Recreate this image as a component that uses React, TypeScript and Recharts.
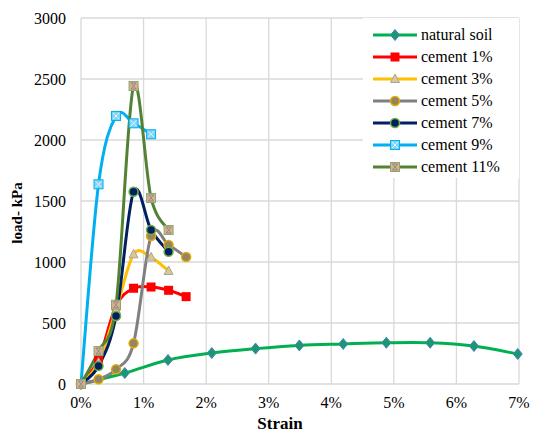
import { LineChart, Line, XAxis, YAxis, CartesianGrid, Legend } from 'recharts';

// strain (%) and load (kPa) for each mix
const soilStrain = [0, 0.7, 1.39, 2.09, 2.79, 3.49, 4.19, 4.88, 5.58, 6.28, 6.98];
const soilLoad = [0, 90, 197, 254, 290, 316, 328, 338, 338, 311, 246];

const cementStrain = [0, 0.28, 0.56, 0.84, 1.12, 1.4, 1.68];
const cement1Load = [0, 200, 640, 785, 795, 768, 716];
const cement3Load = [0, 175, 606, 1063, 1038, 926];
const cement5Load = [0, 38, 120, 333, 1213, 1139, 1041];
const cement7Load = [0, 148, 557, 1576, 1262, 1084];
const cement9Load = [0, 1637, 2197, 2137, 2047];
const cement11Load = [0, 270, 650, 2443, 1525, 1262];

const xTicks = [0, 1, 2, 3, 4, 5, 6, 7];
const yTicks = [0, 500, 1000, 1500, 2000, 2500, 3000];

const FONT = 'Liberation Serif, DejaVu Serif, Noto Serif, serif';

type MarkerKind = 'diamond' | 'square' | 'triangle' | 'circleGold' | 'circleNavy' | 'squareX' | 'squareHourglass';

const toPoints = (strain: number[], load: number[]) =>
  load.map((y, i) => ({ x: strain[i], y }));

const series = [
  { name: 'natural soil', color: '#00b050', marker: 'diamond' as MarkerKind, data: toPoints(soilStrain, soilLoad) },
  { name: 'cement 1%', color: '#ff0000', marker: 'square' as MarkerKind, data: toPoints(cementStrain, cement1Load) },
  { name: 'cement 3%', color: '#ffc000', marker: 'triangle' as MarkerKind, data: toPoints(cementStrain, cement3Load) },
  { name: 'cement 5%', color: '#808080', marker: 'circleGold' as MarkerKind, data: toPoints(cementStrain, cement5Load) },
  { name: 'cement 7%', color: '#002060', marker: 'circleNavy' as MarkerKind, data: toPoints(cementStrain, cement7Load) },
  { name: 'cement 9%', color: '#00b0f0', marker: 'squareX' as MarkerKind, data: toPoints(cementStrain, cement9Load) },
  { name: 'cement 11%', color: '#548235', marker: 'squareHourglass' as MarkerKind, data: toPoints(cementStrain, cement11Load) },
];

// Catmull-Rom style smoothing, like spreadsheet "smoothed line"
const smoothCurve = (ctx: any) => {
  let pts: [number, number][] = [];
  return {
    areaStart() {},
    areaEnd() {},
    lineStart() { pts = []; },
    point(x: number, y: number) { pts.push([+x, +y]); },
    lineEnd() {
      if (!pts.length) return;
      ctx.moveTo(pts[0][0], pts[0][1]);
      for (let i = 0; i < pts.length - 1; i++) {
        const p0 = pts[Math.max(i - 1, 0)];
        const p1 = pts[i];
        const p2 = pts[i + 1];
        const p3 = pts[Math.min(i + 2, pts.length - 1)];
        ctx.bezierCurveTo(
          p1[0] + (p2[0] - p0[0]) / 6, p1[1] + (p2[1] - p0[1]) / 6,
          p2[0] - (p3[0] - p1[0]) / 6, p2[1] - (p3[1] - p1[1]) / 6,
          p2[0], p2[1],
        );
      }
    },
  };
};

function Marker({ kind, cx, cy }: { kind: MarkerKind; cx: number; cy: number }) {
  if (cx == null || cy == null) return null;
  switch (kind) {
    case 'diamond':
      return <path d={`M${cx},${cy - 5.5}L${cx + 4.5},${cy}L${cx},${cy + 5.5}L${cx - 4.5},${cy}Z`} fill="#1a9a6c" stroke="#4a7fc1" strokeWidth={1} />;
    case 'square':
      return <rect x={cx - 4.5} y={cy - 4.5} width={9} height={9} fill="#ff0000" />;
    case 'triangle':
      return <path d={`M${cx},${cy - 5}L${cx + 4.5},${cy + 3.5}L${cx - 4.5},${cy + 3.5}Z`} fill="#dcc78f" stroke="#a5a5a5" strokeWidth={1} />;
    case 'circleGold':
      return <circle cx={cx} cy={cy} r={4.5} fill="#8f8666" stroke="#e8a800" strokeWidth={1.5} />;
    case 'circleNavy':
      return <circle cx={cx} cy={cy} r={4.5} fill="#002060" stroke="#70ad47" strokeWidth={1.5} />;
    case 'squareX':
      return (
        <g>
          <rect x={cx - 4.5} y={cy - 4.5} width={9} height={9} fill="#7fd3f7" stroke="#00b0f0" strokeWidth={1} />
          <path d={`M${cx - 3},${cy - 3}L${cx + 3},${cy + 3}M${cx + 3},${cy - 3}L${cx - 3},${cy + 3}`} stroke="#e6f7fe" strokeWidth={1} />
        </g>
      );
    case 'squareHourglass':
      return (
        <g>
          <rect x={cx - 4.5} y={cy - 4.5} width={9} height={9} fill="#dcae8e" stroke="#8aa86a" strokeWidth={1} />
          <path d={`M${cx - 2.5},${cy - 3}L${cx + 2.5},${cy - 3}L${cx},${cy}L${cx + 2.5},${cy + 3}L${cx - 2.5},${cy + 3}L${cx},${cy}Z`} fill="none" stroke="#8c8c8c" strokeWidth={1} />
        </g>
      );
  }
  return null;
}

const renderLegend = () => (
  <div style={{ background: '#fff', width: 156, height: 160, boxSizing: 'border-box', paddingTop: 6, paddingLeft: 8, fontFamily: FONT, fontSize: 16, color: '#000' }}>
    {series.map((s) => (
      <div key={s.name} style={{ display: 'flex', alignItems: 'center', height: 22 }}>
        <svg width={48} height={22} style={{ flex: 'none' }}>
          <line x1={2} x2={46} y1={11} y2={11} stroke={s.color} strokeWidth={3} />
          <Marker kind={s.marker} cx={24} cy={11} />
        </svg>
        <span style={{ marginLeft: 2, whiteSpace: 'nowrap' }}>{s.name}</span>
      </div>
    ))}
  </div>
);

export default function App() {
  return (
    <div style={{ position: 'absolute', left: 0, top: 0, width: 540, height: 431, background: '#fff', fontFamily: FONT }}>
      <LineChart width={540} height={431} margin={{ top: 18, right: 21, left: 0, bottom: 0 }} style={{ fontFamily: FONT }}>
        <CartesianGrid stroke="#d9d9d9" strokeWidth={1.3} />
        <XAxis
          type="number"
          dataKey="x"
          domain={[0, 7]}
          ticks={xTicks}
          tickFormatter={(v) => `${v}%`}
          height={47}
          axisLine={false}
          tickLine={false}
          tickMargin={7}
          tick={{ fill: '#000', fontSize: 16, fontFamily: FONT }}
          label={{
            content: () => (
              <text x={280} y={423} textAnchor="middle" dominantBaseline="central" fontFamily={FONT} fontSize={17} fontWeight="bold" fill="#000">
                Strain
              </text>
            ),
          }}
        />
        <YAxis
          type="number"
          domain={[0, 3000]}
          ticks={yTicks}
          width={81}
          axisLine={false}
          tickLine={false}
          tickMargin={9}
          tick={{ fill: '#000', fontSize: 16, fontFamily: FONT }}
          label={{
            content: () => (
              <text x={17} y={213} transform="rotate(-90 17 213)" textAnchor="middle" dominantBaseline="central" fontFamily={FONT} fontSize={15} fontWeight="bold" fill="#000">
                load- kPa
              </text>
            ),
          }}
        />
        <Legend
          layout="vertical"
          align="center"
          verticalAlign="middle"
          content={renderLegend}
          wrapperStyle={{ left: 363, top: 18, width: 156, height: 160 }}
        />
        {series.map((s) => (
          <Line
            key={s.name}
            data={s.data}
            dataKey="y"
            name={s.name}
            type={smoothCurve as any}
            stroke={s.color}
            strokeWidth={3}
            dot={(p: any) => <Marker key={`${s.name}-${p.index}`} kind={s.marker} cx={p.cx} cy={p.cy} />}
            activeDot={false}
            isAnimationActive={false}
          />
        ))}
      </LineChart>
    </div>
  );
}
